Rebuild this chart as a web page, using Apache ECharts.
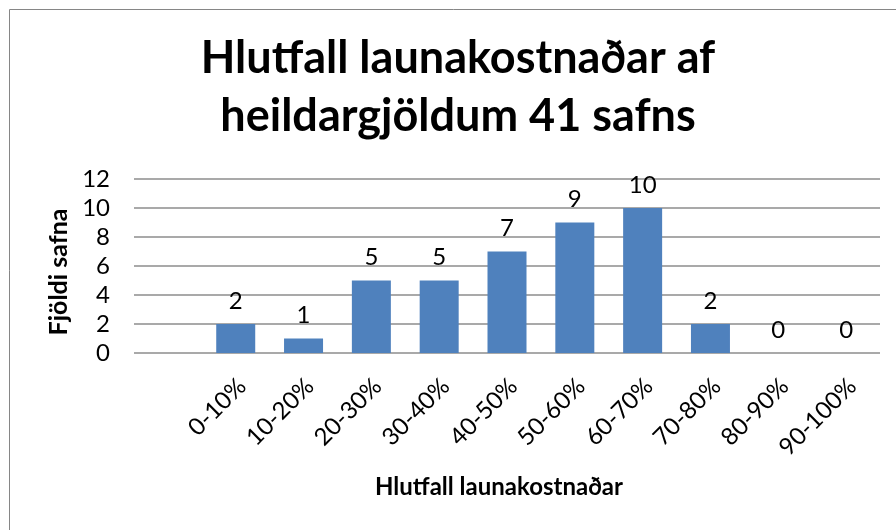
<!DOCTYPE html>
<html>
<head>
<meta charset="utf-8">
<script src="https://cdn.jsdelivr.net/npm/echarts@6/dist/echarts.min.js"></script>
<style>
  html, body { margin: 0; padding: 0; background: #fff; }
  #chart { width: 896px; height: 530px; }
</style>
</head>
<body>
<div id="chart"></div>
<script>
const titleText = 'Hlutfall launakostnaðar af\nheildargjöldum 41 safns'
const xName = 'Hlutfall launakostnaðar'
const yName = 'Fjöldi safna'
const categories = ['', '0-10%', '10-20%', '20-30%', '30-40%', '40-50%', '50-60%', '60-70%', '70-80%', '80-90%', '90-100%']
const counts = [null, 2, 1, 5, 5, 7, 9, 10, 2, 0, 0]
const yTicks = { min: 0, max: 12, interval: 2 }

const FONT = 'Lato, "Open Sans", sans-serif'

const chart = echarts.init(document.getElementById('chart'))

chart.setOption({
  animation: false,
  backgroundColor: '#fff',
  textStyle: { fontFamily: FONT, color: '#000' },
  title: {
    text: titleText,
    left: 453,
    top: 24,
    textAlign: 'center',
    textStyle: { fontSize: 45, fontWeight: 'bold', lineHeight: 58, color: '#000', fontFamily: FONT }
  },
  graphic: [{
    type: 'rect',
    shape: { x: 9.5, y: 9.5, width: 1000, height: 1000 },
    style: { fill: 'none', stroke: '#868686', lineWidth: 1 },
    silent: true
  }],
  grid: { left: 134, right: 16, top: 179, bottom: 177 },
  xAxis: {
    type: 'category',
    data: categories,
    name: xName,
    nameLocation: 'middle',
    nameGap: 122,
    nameTextStyle: { fontSize: 24, fontWeight: 'bold', color: '#000', padding: [0, 16, 0, 0] },
    axisLine: { show: false },
    axisTick: { show: false },
    axisLabel: { rotate: 45, fontSize: 24, lineHeight: 18, color: '#000', margin: 23, verticalAlign: 'top', interval: 0 }
  },
  yAxis: {
    type: 'value',
    min: yTicks.min,
    max: yTicks.max,
    interval: yTicks.interval,
    name: yName,
    nameLocation: 'middle',
    nameGap: 60,
    nameTextStyle: { fontSize: 25, fontWeight: 'bold', color: '#000', padding: [0, 12, 0, 0] },
    axisLine: { show: false },
    axisTick: { show: false },
    axisLabel: { fontSize: 24, color: '#000', margin: 24 },
    splitLine: { lineStyle: { color: '#8c8c8c', width: 1.5 } }
  },
  series: [{
    type: 'bar',
    data: counts,
    barWidth: 39,
    itemStyle: { color: '#4f81bd' },
    label: { show: true, position: 'top', distance: 11, fontSize: 24, color: '#000' }
  }]
})
</script>
</body>
</html>
